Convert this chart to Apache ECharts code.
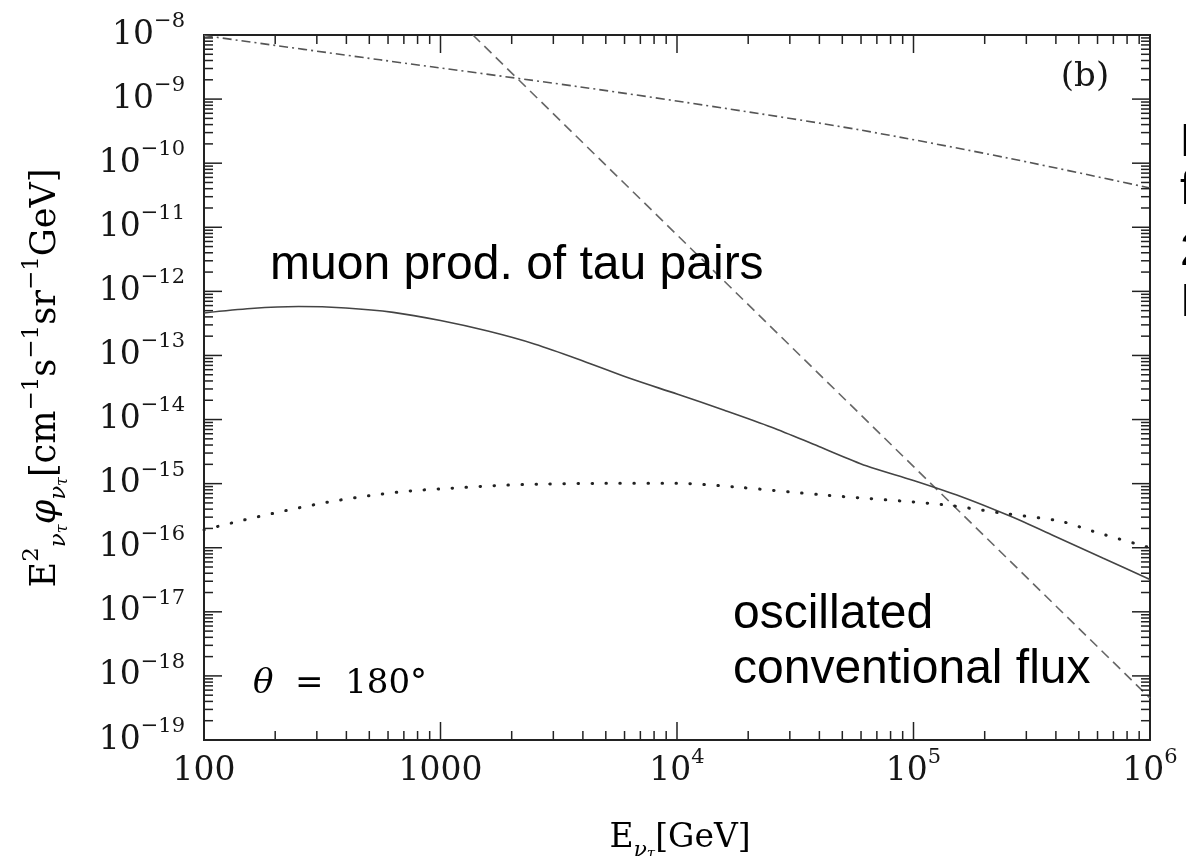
<!DOCTYPE html>
<html>
<head>
<meta charset="utf-8">
<script src="https://cdn.jsdelivr.net/npm/echarts@6/dist/echarts.min.js"></script>
<style>
  html, body { margin: 0; padding: 0; background: #fff; overflow: hidden; }
  #chart { width: 1186px; height: 856px; }
</style>
</head>
<body>
<div id="chart"></div>
<script>
// Tau-neutrino flux at theta = 180 deg, E^2 * phi versus neutrino energy.

// Axis ranges and tick labels
const X_MIN = 100, X_MAX = 1e6;
const Y_MIN = 1e-19, Y_MAX = 1e-8;
const xTickValues = [100, 1000, 1e4, 1e5, 1e6];
const xTickLabels = ['100', '1000', '10^4', '10^5', '10^6'];
const yTickValues = [1e-19, 1e-18, 1e-17, 1e-16, 1e-15, 1e-14, 1e-13, 1e-12, 1e-11, 1e-10, 1e-9, 1e-8];
const yTickLabels = ['10^-19', '10^-18', '10^-17', '10^-16', '10^-15', '10^-14',
                     '10^-13', '10^-12', '10^-11', '10^-10', '10^-9', '10^-8'];

// Solid: muon production of tau pairs
const tauPairEnergy = [100, 158, 251, 398, 631, 1000, 1585, 2512, 3981, 6310, 1e4,
                       15850, 25120, 39810, 63100, 1e5, 158500, 251200, 398100, 631000, 1e6];
const tauPairFlux = [4.6e-13, 5.4e-13, 5.8e-13, 5.5e-13, 4.7e-13, 3.5e-13, 2.4e-13, 1.5e-13,
                     8.3e-14, 4.4e-14, 2.5e-14, 1.4e-14, 7.6e-15, 3.8e-15, 1.9e-15, 1.12e-15,
                     6.3e-16, 3.2e-16, 1.5e-16, 6.9e-17, 3.2e-17];

// Dotted: oscillated conventional flux
const oscEnergy = [100, 147, 222, 330, 499, 748, 1122, 1698, 2570, 5012, 1e4,
                   17380, 42660, 133400, 232300, 416900, 575400, 912000, 1e6];
const oscFlux = [1.9e-16, 2.7e-16, 3.8e-16, 5.1e-16, 6.5e-16, 7.7e-16, 8.5e-16, 9.3e-16,
                 9.8e-16, 1.01e-15, 1.01e-15, 8.9e-16, 6.6e-16, 4.7e-16, 3.5e-16, 2.6e-16,
                 1.8e-16, 1.1e-16, 1.0e-16];

// Dash-dot curve
const dashDotEnergy = [100, 555, 3890, 15850, 59430, 251200, 1e6];
const dashDotFlux = [9.8e-9, 4.1e-9, 1.55e-9, 7.2e-10, 3.3e-10, 1.2e-10, 4.1e-11];

// Dashed power law
const dashedEnergy = [1371, 1e6];
const dashedFlux = [1e-8, 4.5e-19];

function zip(xs, ys) { return xs.map((x, i) => [x, ys[i]]); }

// Major (decade) and minor (2..9) tick marks on all four sides
const tickData = [];
for (let e = 2; e <= 6; e++) {
  const d = Math.pow(10, e);
  if (e > 2 && e < 6) tickData.push([d, Y_MIN, 0]);
  if (e < 6) for (let k = 2; k <= 9; k++) tickData.push([k * d, Y_MIN, 1]);
}
for (let e = -19; e <= -8; e++) {
  const d = Math.pow(10, e);
  if (e > -19 && e < -8) tickData.push([X_MIN, d, 2]);
  if (e < -8) for (let k = 2; k <= 9; k++) tickData.push([X_MIN, k * d, 3]);
}

function nearestLabel(values, labels, v) {
  let best = 0, bd = Infinity;
  values.forEach((t, i) => {
    const dd = Math.abs(Math.log10(t) - Math.log10(v));
    if (dd < bd) { bd = dd; best = i; }
  });
  const t = labels[best];
  if (t.indexOf('^') < 0) return '{b|' + t + '}';
  const parts = t.split('^');
  return '{b|' + parts[0] + '}{s|' + parts[1].replace('-', '\u2212') + '}';
}

const serif = 'DejaVu Serif';
const sans = 'Liberation Sans';
const ink = '#161616';
const tickRich = {
  b: { fontFamily: serif, fontSize: 33, lineHeight: 48, color: ink },
  s: { fontFamily: serif, fontSize: 21, lineHeight: 21, verticalAlign: 'top', color: ink }
};

const chart = echarts.init(document.getElementById('chart'), null, { renderer: 'canvas' });

chart.setOption({
  animation: false,
  backgroundColor: '#fff',
  grid: {
    left: 204, top: 35, width: 946, height: 705,
    show: true, borderColor: '#222', borderWidth: 2, backgroundColor: 'transparent'
  },
  xAxis: {
    type: 'log', logBase: 10, min: X_MIN, max: X_MAX, interval: 1, splitNumber: 4,
    axisLine: { show: false }, axisTick: { show: false }, splitLine: { show: false },
    axisLabel: {
      margin: 7, showMinLabel: true, showMaxLabel: true,
      formatter: v => nearestLabel(xTickValues, xTickLabels, v),
      rich: tickRich
    }
  },
  yAxis: {
    type: 'log', logBase: 10, min: Y_MIN, max: Y_MAX, interval: 1, splitNumber: 11,
    axisLine: { show: false }, axisTick: { show: false }, splitLine: { show: false },
    axisLabel: {
      margin: 19, showMinLabel: true, showMaxLabel: true,
      formatter: v => nearestLabel(yTickValues, yTickLabels, v),
      rich: tickRich
    }
  },
  series: [
    {
      type: 'custom', name: 'ticks', data: tickData, encode: { x: 0, y: 1 },
      clip: false, silent: true, z: 5,
      renderItem: function (params, api) {
        const kind = api.value(2);
        const style = { stroke: '#222', lineWidth: 1.5 };
        if (kind < 2) {
          const v = api.value(0);
          const len = kind === 0 ? 18 : 9;
          const b = api.coord([v, Y_MIN]);
          const t = api.coord([v, Y_MAX]);
          return { type: 'group', children: [
            { type: 'line', shape: { x1: b[0], y1: b[1], x2: b[0], y2: b[1] - len }, style },
            { type: 'line', shape: { x1: t[0], y1: t[1], x2: t[0], y2: t[1] + len }, style }
          ]};
        } else {
          const v = api.value(1);
          const len = kind === 2 ? 18 : 9;
          const l = api.coord([X_MIN, v]);
          const r = api.coord([X_MAX, v]);
          return { type: 'group', children: [
            { type: 'line', shape: { x1: l[0], y1: l[1], x2: l[0] + len, y2: l[1] }, style },
            { type: 'line', shape: { x1: r[0], y1: r[1], x2: r[0] - len, y2: r[1] }, style }
          ]};
        }
      }
    },
    {
      type: 'line', name: 'dash-dot', data: zip(dashDotEnergy, dashDotFlux),
      showSymbol: false, smooth: 0.3, z: 3,
      lineStyle: { color: '#555', width: 1.6, type: [9, 4, 2, 4] }
    },
    {
      type: 'line', name: 'dashed', data: zip(dashedEnergy, dashedFlux),
      showSymbol: false, z: 3,
      lineStyle: { color: '#666', width: 1.6, type: [10, 6] }
    },
    {
      type: 'line', name: 'muon prod. of tau pairs', data: zip(tauPairEnergy, tauPairFlux),
      showSymbol: false, smooth: 0.3, z: 3,
      lineStyle: { color: '#444', width: 1.6 }
    },
    {
      type: 'line', name: 'oscillated conventional flux', data: zip(oscEnergy, oscFlux),
      showSymbol: false, smooth: 0.3, z: 3,
      lineStyle: { color: '#222', width: 3, type: [0.5, 13.5], cap: 'round' }
    }
  ],
  graphic: [
    // y-axis title
    {
      type: 'text', x: 46, y: 378, rotation: Math.PI / 2,
      style: {
        text: '{m|E}{sup|2}{sub|\u03bd}{subsub|\u03c4}{mi|\u03c6}{sub|\u03bd}{subsub|\u03c4}{m|[cm}{sup|\u22121}{m|s}{sup|\u22121}{m|sr}{sup|\u22121}{m|GeV]}',
        align: 'center', verticalAlign: 'middle',
        rich: {
          m: { fontFamily: serif, fontSize: 35, lineHeight: 50, color: ink },
          mi: { fontFamily: serif, fontStyle: 'italic', fontSize: 35, lineHeight: 50, color: ink },
          sup: { fontFamily: serif, fontSize: 23, lineHeight: 23, verticalAlign: 'top', color: ink },
          sub: { fontFamily: serif, fontStyle: 'italic', fontSize: 23, lineHeight: 23, verticalAlign: 'bottom', color: ink },
          subsub: { fontFamily: serif, fontStyle: 'italic', fontSize: 16, lineHeight: 16, verticalAlign: 'bottom', color: ink }
        }
      }
    },
    // x-axis title
    {
      type: 'text', x: 680, y: 838,
      style: {
        text: '{m|E}{sub|\u03bd}{subsub|\u03c4}{m|[GeV]}',
        align: 'center', verticalAlign: 'middle',
        rich: {
          m: { fontFamily: serif, fontSize: 33, lineHeight: 48, color: ink },
          sub: { fontFamily: serif, fontStyle: 'italic', fontSize: 22, lineHeight: 22, verticalAlign: 'bottom', color: ink },
          subsub: { fontFamily: serif, fontStyle: 'italic', fontSize: 15, lineHeight: 15, verticalAlign: 'bottom', color: ink }
        }
      }
    },
    {
      type: 'text', x: 270, y: 266, z: 10,
      style: { text: 'muon prod. of tau pairs', fontFamily: sans, fontSize: 48,
               fill: '#000', align: 'left', verticalAlign: 'middle' }
    },
    {
      type: 'text', x: 733, y: 615, z: 10,
      style: { text: 'oscillated', fontFamily: sans, fontSize: 48,
               fill: '#000', align: 'left', verticalAlign: 'middle' }
    },
    {
      type: 'text', x: 733, y: 670, z: 10,
      style: { text: 'conventional flux', fontFamily: sans, fontSize: 48,
               fill: '#000', align: 'left', verticalAlign: 'middle' }
    },
    {
      type: 'text', x: 253, y: 684, z: 10,
      style: {
        text: '{i|\u03b8}{n|  =  180\u00b0}', align: 'left', verticalAlign: 'middle',
        rich: {
          i: { fontFamily: serif, fontStyle: 'italic', fontSize: 34, color: ink },
          n: { fontFamily: serif, fontSize: 34, color: ink }
        }
      }
    },
    {
      type: 'text', x: 1085, y: 77, z: 10,
      style: { text: '(b)', fontFamily: serif, fontSize: 34, fill: ink,
               align: 'center', verticalAlign: 'middle' }
    },
    // caption running off the right edge
    { type: 'text', x: 1180, y: 143, style: { text: 'F', fontFamily: sans, fontSize: 46, fill: '#000', verticalAlign: 'middle' } },
    { type: 'text', x: 1180, y: 191, style: { text: 'f', fontFamily: sans, fontSize: 46, fill: '#000', verticalAlign: 'middle' } },
    { type: 'text', x: 1180, y: 252, style: { text: '2', fontFamily: sans, fontSize: 46, fill: '#000', verticalAlign: 'middle' } },
    { type: 'text', x: 1180, y: 303, style: { text: 'I', fontFamily: sans, fontSize: 46, fill: '#000', verticalAlign: 'middle' } }
  ]
});
</script>
</body>
</html>
